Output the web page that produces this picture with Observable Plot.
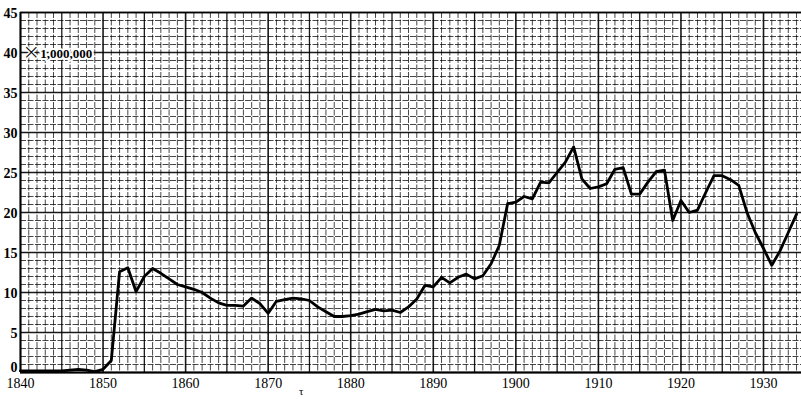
<!DOCTYPE html>
<html>
<head>
<meta charset="utf-8">
<script src="https://cdn.jsdelivr.net/npm/d3@7"></script>
<script src="https://cdn.jsdelivr.net/npm/@observablehq/plot@0.6"></script>
<style>
  html, body { margin: 0; padding: 0; background: #fff; }
  #chart svg { display: block; }
</style>
</head>
<body>
<div id="chart"></div>
<script>
const years = d3.range(1840, 1935);
const values = [
  0.2, 0.2, 0.2, 0.2, 0.2, 0.2, 0.3, 0.4, 0.3, 0.1,      // 1840-1849
  0.4, 1.5, 12.6, 13.1, 10.1, 12.0, 13.0, 12.4, 11.7, 11.0, // 1850-1859
  10.7, 10.4, 10.0, 9.3, 8.7, 8.4, 8.4, 8.3, 9.3, 8.6,   // 1860-1869
  7.4, 8.9, 9.1, 9.3, 9.2, 9.0, 8.2, 7.6, 7.0, 7.0,      // 1870-1879
  7.1, 7.3, 7.6, 7.9, 7.7, 7.8, 7.5, 8.2, 9.2, 10.9,     // 1880-1889
  10.7, 11.9, 11.2, 11.9, 12.3, 11.7, 12.1, 13.6, 15.9, 21.1, // 1890-1899
  21.3, 22.0, 21.7, 23.8, 23.7, 25.0, 26.3, 28.2, 24.2, 23.0, // 1900-1909
  23.2, 23.6, 25.4, 25.6, 22.3, 22.3, 23.8, 25.1, 25.3, 19.0, // 1910-1919
  21.5, 20.0, 20.3, 22.5, 24.6, 24.6, 24.1, 23.4, 20.0, 17.5, // 1920-1929
  15.5, 13.4, 15.2, 17.5, 19.8                          // 1930-1934
];
const xTicks = [1840, 1850, 1860, 1870, 1880, 1890, 1900, 1910, 1920, 1930];
const yTicks = [0, 5, 10, 15, 20, 25, 30, 35, 40, 45];
const unitSign = "×";
const unitLabel = "1,000,000";
const stray = "τ";

const data = years.map((y, i) => ({year: y, value: values[i]}));
const minorX = d3.range(1840, 1935).filter(d => d % 5 !== 0);
const midX = d3.range(1845, 1935, 10);
const minorY = d3.range(0, 46).filter(d => d % 5 !== 0);
const yUpper = yTicks.filter(d => d > 0);
const yZero = yTicks.filter(d => d === 0);

const serif = "'Liberation Serif', 'DejaVu Serif', serif";

const chart = Plot.plot({
  width: 801,
  height: 399,
  marginLeft: 20,
  marginRight: 0,
  marginTop: 12,
  marginBottom: 27,
  style: {fontFamily: serif, background: "#fff"},
  x: {domain: [1840, 1934.6], label: null},
  y: {domain: [0, 45], label: null},
  marks: [
    Plot.ruleX(minorX, {stroke: "#000", strokeOpacity: 0.72, strokeWidth: 1, strokeDasharray: "6,1.5"}),
    Plot.ruleY(minorY, {stroke: "#000", strokeOpacity: 0.72, strokeWidth: 1, strokeDasharray: "6,1.5"}),
    Plot.ruleX(midX, {stroke: "#000", strokeOpacity: 0.9, strokeWidth: 1.3}),
    Plot.ruleX(xTicks, {stroke: "#000", strokeOpacity: 0.9, strokeWidth: 1.6}),
    Plot.ruleY(yTicks, {stroke: "#000", strokeOpacity: 0.9, strokeWidth: 1.5}),
    Plot.ruleX([1840], {stroke: "#000", strokeWidth: 1.8}),
    Plot.ruleY([0], {stroke: "#000", strokeWidth: 1.8}),
    Plot.ruleY([45], {stroke: "#000", strokeWidth: 1.6}),
    Plot.axisY(yUpper, {tickSize: 0, tickPadding: 3, fontSize: 14, fontWeight: "bold", dy: 1, label: null}),
    Plot.axisY(yZero, {tickSize: 0, tickPadding: 3, fontSize: 14, fontWeight: "bold", dy: -5, label: null}),
    Plot.axisX(xTicks, {tickFormat: "d", tickSize: 0, tickPadding: 3, fontSize: 14, dy: 3, label: null}),
    Plot.text([unitSign], {x: 1840.25, y: 40, text: d => d, textAnchor: "start", fontSize: 21,
      fontFamily: "'DejaVu Sans', sans-serif", fontWeight: 300,
      stroke: "#fff", strokeWidth: 3, fill: "#000", dy: 0}),
    Plot.text([unitLabel], {x: 1842.4, y: 40, text: d => d, textAnchor: "start", fontSize: 13, fontWeight: "bold",
      letterSpacing: -0.5, stroke: "#fff", strokeWidth: 4, fill: "#000", dy: 1}),
    Plot.text([stray], {x: 1874, y: 0, text: d => d, fontSize: 11, dy: 19, fill: "#000"}),
    Plot.line(data, {x: "year", y: "value", stroke: "#000", strokeWidth: 2.8, strokeLinejoin: "round"})
  ]
});
document.getElementById("chart").appendChild(chart);
</script>
</body>
</html>
